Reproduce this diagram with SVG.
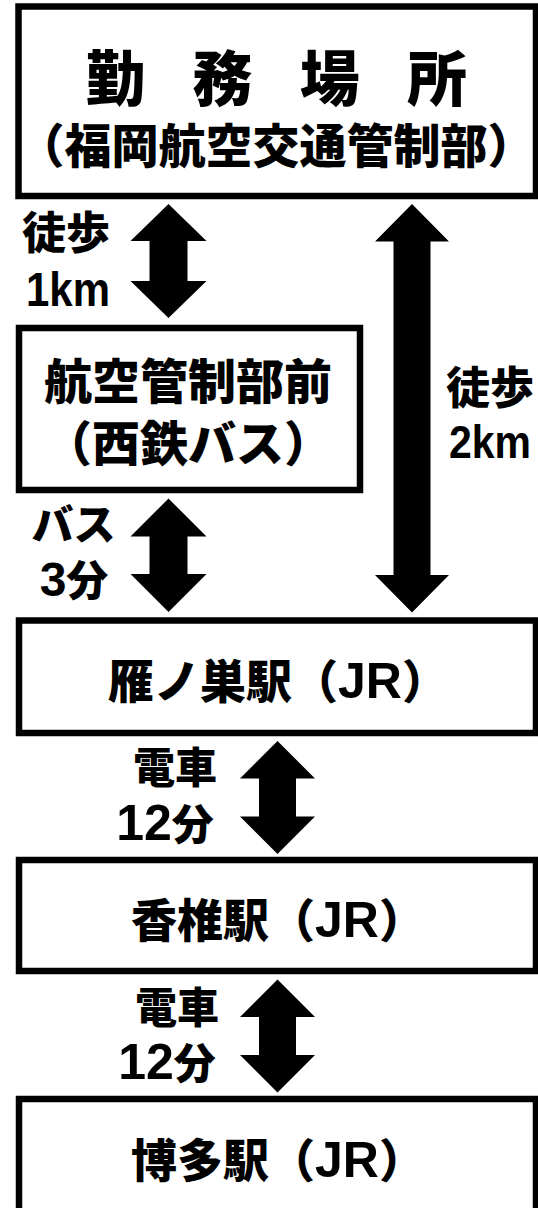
<svg xmlns="http://www.w3.org/2000/svg" width="538" height="1208" viewBox="0 0 538 1208">
<style>
.box{fill:#fff;stroke:#000;stroke-width:6.5}
.t{font-family:"Noto Sans CJK JP","Noto Sans CJK SC",sans-serif;font-weight:900;fill:#000;text-anchor:middle}
.n{font-family:"Liberation Sans","Noto Sans CJK JP",sans-serif;font-weight:bold;fill:#000;text-anchor:middle}
.arr{fill:#000}
</style>
<rect width="538" height="1208" fill="#fff"/>
<g id="connectors">
<polygon class="arr" points="168.5,204 206.5,241 187.5,241 187.5,281 206.5,281 168.5,318 130.5,281 149.5,281 149.5,241 130.5,241"/>
<polygon class="arr" points="168.5,498.5 206.5,536.5 187.5,536.5 187.5,574 206.5,574 168.5,612 130.5,574 149.5,574 149.5,536.5 130.5,536.5"/>
<polygon class="arr" points="412,204 449,241.5 430.5,241.5 430.5,575 449,575 412,612.5 375,575 393.5,575 393.5,241.5 375,241.5"/>
<polygon class="arr" points="277.5,741 315,778.5 296,778.5 296,816.5 315,816.5 277.5,854 240,816.5 259,816.5 259,778.5 240,778.5"/>
<polygon class="arr" points="277.5,979.5 315,1017 296,1017 296,1055 315,1055 277.5,1092.5 240,1055 259,1055 259,1017 240,1017"/>
<text class="t" font-size="44" x="66" y="249">徒歩</text>
<text class="n" font-size="49" x="68" y="306" textLength="84" lengthAdjust="spacingAndGlyphs">1km</text>
<text class="t" font-size="42" x="73.5" y="540">バス</text>
<text class="t" font-size="42" x="74" y="596"><tspan class="n" font-size="48">3</tspan>分</text>
<text class="t" font-size="44" x="490" y="404">徒歩</text>
<text class="n" font-size="46" x="490" y="458" textLength="82" lengthAdjust="spacingAndGlyphs">2km</text>
<text class="t" font-size="42" x="175" y="783">電車</text>
<text class="t" font-size="42" x="165" y="840"><tspan class="n" font-size="50">12</tspan>分</text>
<text class="t" font-size="42" x="177" y="1023">電車</text>
<text class="t" font-size="42" x="167" y="1079"><tspan class="n" font-size="50">12</tspan>分</text>
</g>
<g id="node-kinmu">
<rect class="box" x="18.5" y="6.5" width="517.5" height="189.5"/>
<text class="t" font-size="60" x="115.4 222.6 329.8 437" y="101">勤務場所</text>
<text class="t" font-size="47" x="276" y="163">（福岡航空交通管制部）</text>
</g>
<g id="node-bus">
<rect class="box" x="19" y="328" width="341" height="162"/>
<text class="t" font-size="48" x="188" y="399">航空管制部前</text>
<text class="t" font-size="48" x="188" y="461">（西鉄バス）</text>
</g>
<g id="node-gannosu">
<rect class="box" x="19" y="620.5" width="517" height="112.5"/>
<text class="t" font-size="46" x="278" y="698">雁ノ巣駅（<tspan class="n" font-size="50">JR</tspan>）</text>
</g>
<g id="node-kashii">
<rect class="box" x="19" y="860" width="517" height="111"/>
<text class="t" font-size="46" x="278" y="937">香椎駅（<tspan class="n" font-size="50">JR</tspan>）</text>
</g>
<g id="node-hakata">
<rect class="box" x="19" y="1099" width="517" height="130"/>
<text class="t" font-size="46" x="278" y="1177">博多駅（<tspan class="n" font-size="50">JR</tspan>）</text>
</g>
</svg>
